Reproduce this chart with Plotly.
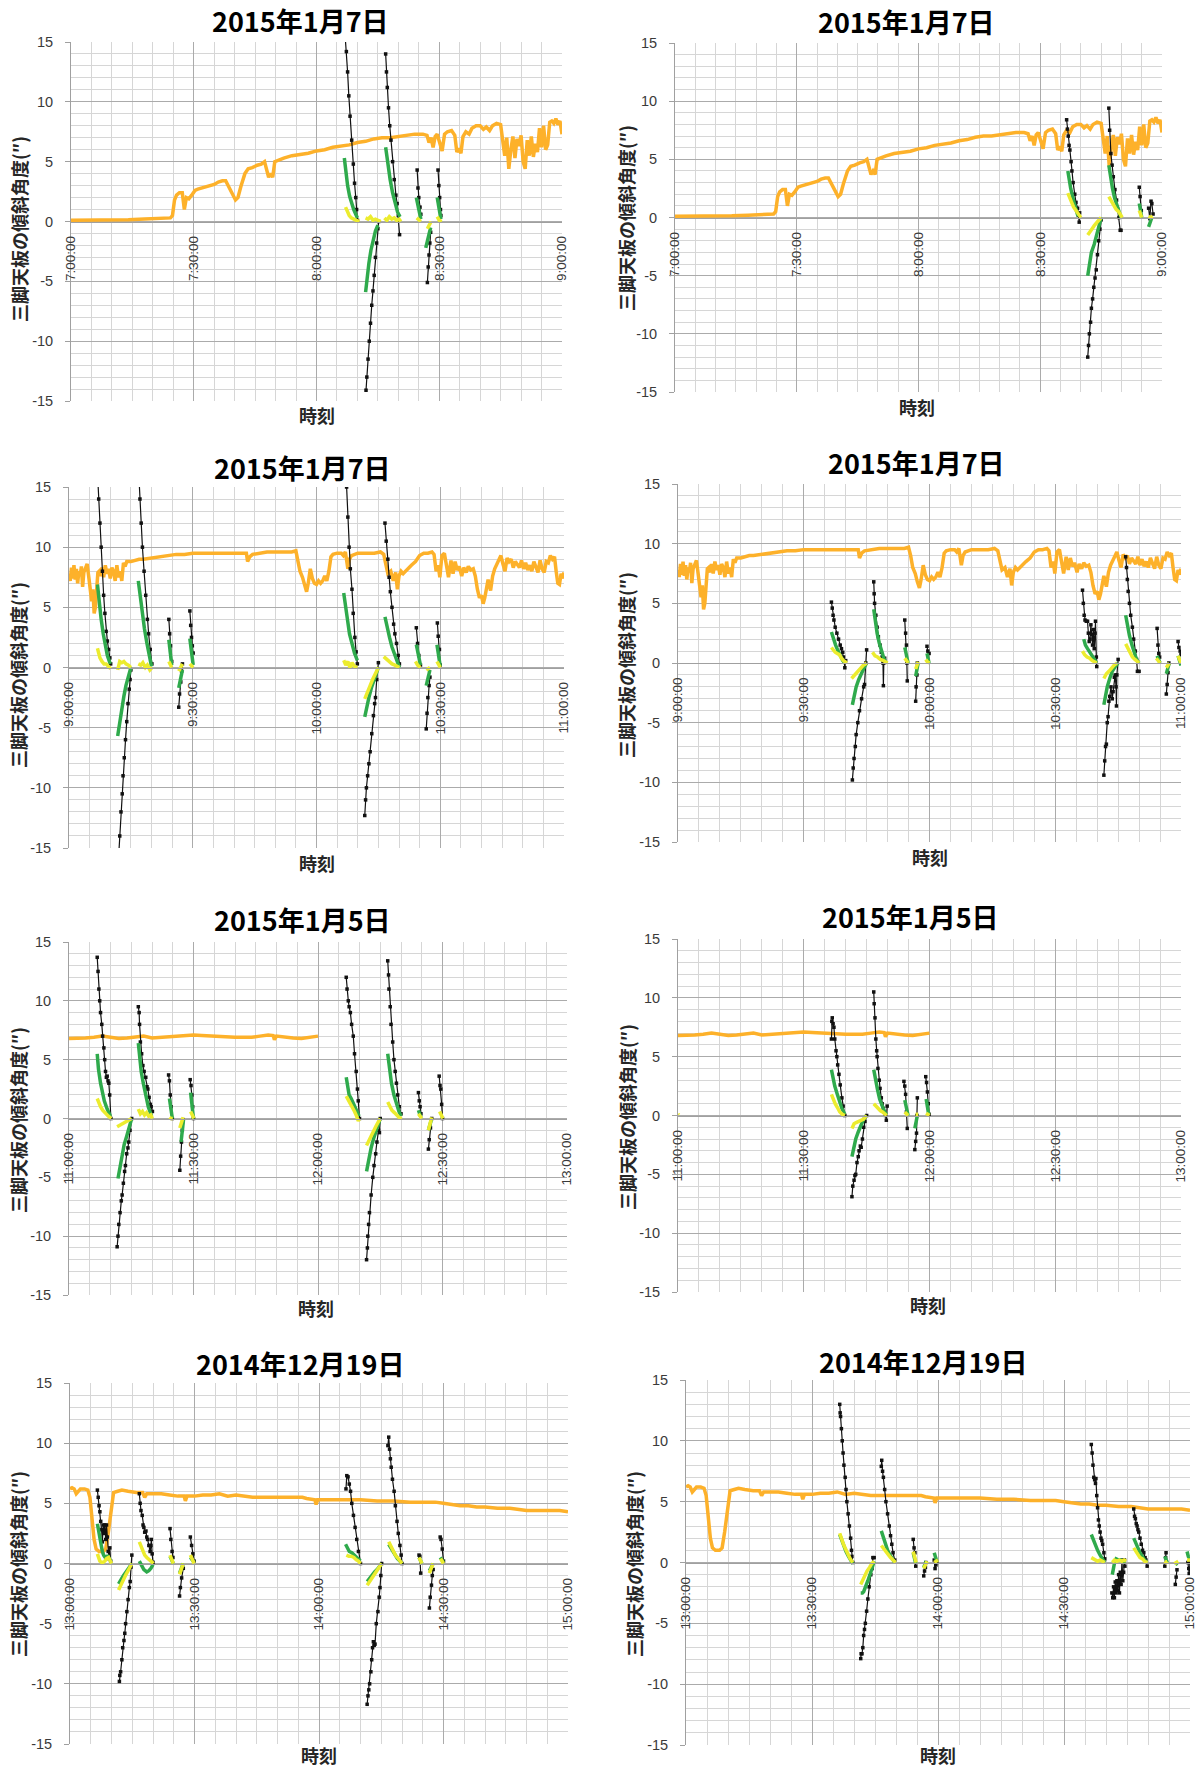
import plotly.graph_objects as go

W, H = 1200, 1769

# ---------------- tick labels ----------------
TICK_MIN = [0, 30, 60, 90, 120]
TICKS_R1 = ["7:00:00", "7:30:00", "8:00:00", "8:30:00", "9:00:00"]
TICKS_R2 = ["9:00:00", "9:30:00", "10:00:00", "10:30:00", "11:00:00"]
TICKS_R3 = ["11:00:00", "11:30:00", "12:00:00", "12:30:00", "13:00:00"]
TICKS_R4 = ["13:00:00", "13:30:00", "14:00:00", "14:30:00", "15:00:00"]
Y_TICKS = [-15, -10, -5, 0, 5, 10, 15]
Y_TICK_TEXT = ["-15", "-10", "-5", "0", "5", "10", "15"]
TITLES = ["2015年1月7日", "2015年1月7日", "2015年1月7日", "2015年1月7日",
          "2015年1月5日", "2015年1月5日", "2014年12月19日", "2014年12月19日"]
Y_TITLE = "三脚天板の傾斜角度(″)"
X_TITLE = "時刻"

# ---------------- orange series (minutes from start, value) ----------------
ORANGE_R1_T = [0, 5, 10, 14, 18, 22, 24.3, 24.8, 25.3, 25.8, 26.5, 27.2, 27.7, 28.2, 28.8, 29.5, 30.3, 31, 32, 33, 34, 35, 36, 37,
               37.8, 38.5, 39.3, 40.2, 40.8, 41.5, 42.5, 43.3, 44.3, 45.5, 46.5, 47.3, 47.8, 48.3, 48.8, 49.3, 49.8, 50.5, 52, 54,
               56, 58, 60, 62, 64, 66, 68, 70, 72, 74, 76, 78, 80, 82, 84, 86, 87, 87.5, 88, 88.5, 89, 89.5, 90, 90.7, 91.3, 92,
               93, 93.8, 94.3, 94.8, 95.3, 95.8, 96.5, 97.3, 98, 99, 100, 100.8, 101.5, 102.3, 103, 104, 105, 105.5, 106, 106.5,
               107, 107.5, 108, 108.5, 109, 109.5, 110, 110.5, 111, 111.5, 112, 112.5, 113, 113.5, 114, 114.5, 115, 115.5, 116,
               116.5, 117, 117.5, 118, 118.5, 119, 119.5, 120]
ORANGE_R1_V = [0.1, 0.1, 0.1, 0.15, 0.2, 0.25, 0.3, 0.5, 1.8, 2.2, 2.4, 2.4, 1.0, 2.0, 1.9, 2.2, 2.6, 2.7, 2.8, 2.9, 3.0, 3.1, 3.3, 3.4,
               3.4, 3.0, 2.4, 1.8, 2.0, 2.9, 4.0, 4.4, 4.5, 4.7, 4.8, 5.0, 4.4, 3.7, 4.0, 3.7, 5.0, 5.1, 5.3, 5.5,
               5.6, 5.7, 5.9, 6.0, 6.2, 6.3, 6.4, 6.6, 6.7, 6.9, 7.0, 7.0, 7.1, 7.2, 7.3, 7.3, 7.2, 6.6, 7.0, 6.2, 7.1, 7.3, 6.6, 5.9, 7.3, 7.5,
               7.6, 7.2, 5.8, 6.1, 5.7, 7.1, 7.5, 7.3, 7.8, 8.0, 8.0, 7.7, 7.9, 7.6, 8.0, 8.2, 8.1, 7.0, 5.5, 7.0,
               4.4, 6.0, 7.1, 5.3, 6.9, 6.3, 7.2, 5.0, 4.4, 6.8, 5.5, 7.1, 5.4, 6.5, 5.8, 7.8, 6.2, 8.0, 6.0,
               6.4, 8.3, 8.4, 8.2, 8.6, 8.1, 8.4, 7.3]

ORANGE_R2_T = [0, 0.3, 0.6, 0.9, 1.2, 1.5, 1.8, 2.1, 2.4, 2.7, 3.0, 3.3, 3.6, 4.0, 4.4, 4.8, 5.2, 5.5, 5.8, 6.1, 6.4, 6.7, 7.0, 7.3,
               7.7, 8.0, 8.4, 8.8, 9.2, 9.6, 10.0, 10.4, 10.8, 11.2, 11.6, 12.0, 12.4, 12.8, 13.2, 13.6, 14.0, 15, 16, 17, 18, 20,
               22, 24, 26, 28, 30, 32, 34, 36, 38, 40, 42, 43, 43.3, 43.8, 44.5, 46, 48, 50, 52, 54, 55, 55.5, 56, 56.6, 57.1,
               57.6, 58, 58.5, 59, 59.5, 60, 60.5, 61, 61.5, 62, 62.5, 63, 63.5, 64, 65, 66, 66.5, 67, 67.6, 68, 68.5, 70, 72, 74,
               75.5, 76.3, 76.8, 77.3, 78, 78.6, 79.2, 79.6, 80, 80.5, 81, 82, 83, 84, 85, 86, 87, 88, 88.5, 89, 89.5, 89.9, 90.4,
               91, 91.5, 92, 92.6, 93.1, 93.6, 94.1, 94.6, 95.2, 95.7, 96.3, 96.8, 97.4, 98, 98.5, 99, 99.5, 100, 100.4, 100.8,
               101.2, 101.6, 102.2, 102.7, 103.2, 103.7, 104.2, 104.7, 105.2, 105.7, 106.2, 106.7, 107.2, 107.7, 108.2, 108.7,
               109.2, 109.7, 110.2, 110.7, 111.2, 111.7, 112.2, 112.7, 113.2, 113.7, 114.2, 114.7, 115.2, 115.7, 116.2, 116.7,
               117.2, 117.7, 118.1, 118.5, 118.9, 119.3, 119.7, 120]
ORANGE_R2_V = [7.8, 7.2, 8.3, 7.4, 8.5, 7.3, 8.2, 7.0, 8.0, 7.6, 8.4, 6.7, 7.9, 8.2, 8.6, 7.5, 6.5, 5.5, 6.5, 4.5, 5.0, 7.2, 7.9, 8.0,
               7.6, 8.3, 7.5, 8.5, 7.8, 8.2, 7.4, 8.3, 8.0, 7.2, 8.5, 7.5, 8.0, 7.2, 8.7, 8.4, 8.8, 8.8, 8.9, 9.0, 9.0, 9.1,
               9.2, 9.3, 9.4, 9.4, 9.5, 9.5, 9.5, 9.5, 9.5, 9.5, 9.5, 9.5, 8.8, 9.2, 9.4, 9.5, 9.6, 9.6, 9.6, 9.6, 9.7, 9.0, 8.0, 7.5, 6.8,
               6.3, 7.0, 8.2, 7.4, 7.0, 6.9, 7.2, 7.0, 7.2, 7.6, 7.2, 8.0, 9.2, 9.4, 9.5, 9.5, 9.3, 9.6, 8.2, 9.0, 9.3, 9.5, 9.5, 9.5,
               9.6, 9.4, 8.6, 7.8, 8.0, 7.2, 7.9, 6.5, 7.6, 8.0, 7.8, 8.2, 8.5, 8.8, 9.3, 9.5, 9.5, 9.6, 9.4, 8.0, 8.5, 7.5, 9.3,
               9.5, 8.5, 7.5, 8.9, 7.8, 8.8, 8.1, 8.4, 7.6, 8.3, 7.9, 8.4, 8.1, 8.2, 7.6, 6.5, 5.8, 6.0, 5.3, 5.8,
               6.8, 7.3, 6.4, 7.6, 8.2, 8.6, 9.0, 9.3, 8.6, 8.0, 9.1, 8.8, 9.0, 8.3, 8.8, 8.6,
               8.3, 8.9, 8.2, 8.7, 8.1, 8.5, 8.0, 8.8, 8.4, 7.9, 8.9, 8.2, 7.9, 8.8, 8.7, 9.3,
               9.0, 9.2, 8.0, 7.0, 6.9, 7.8, 7.4, 7.9]

ORANGE_R3_T = [0, 2, 4, 6, 8, 10, 12, 14, 16, 18, 20, 22, 24, 26, 28, 30, 32, 34, 36, 38, 40, 42, 44, 46, 48, 49.2, 49.5,
               50, 52, 54, 56, 58, 60]
ORANGE_R3_V = [6.8, 6.8, 6.85, 6.9, 7.0, 6.9, 6.8, 6.85, 6.95, 7.0, 6.85, 6.9, 7.0, 7.05, 7.1, 7.1, 7.05, 7.0, 7.0, 6.95, 6.9,
               6.9, 6.9, 7.0, 7.1, 7.05, 6.7, 7.0, 6.9, 6.85, 6.8, 6.9, 7.0]

ORANGE_R4_T = [0, 0.5, 1, 1.5, 2, 2.5, 3.5, 4.3, 4.8, 5.3, 5.8, 6.3, 7, 8, 8.6, 9.2, 9.8, 10.2, 10.5, 11.5, 12.5, 14, 16, 17.5,
               18, 18.5, 20, 22, 24, 26, 27.5, 27.8, 28.2, 30, 32, 34, 36, 38, 40, 42, 44, 46, 48, 50, 52, 54, 56, 57, 59,
               59.3, 59.7, 62, 66, 70, 74, 78, 82, 86, 88, 90, 92, 94, 96, 98, 100, 103, 106, 108, 110, 113, 116, 118, 120]
ORANGE_R4_V = [6.2, 6.3, 6.2, 5.8, 6.0, 6.2, 6.2, 6.1, 5.5, 3.5, 2.0, 1.2, 1.0, 1.0, 1.2, 2.5, 4.0, 5.0, 5.9, 6.0, 6.1, 6.0, 5.9, 5.9,
               5.5, 5.8, 5.8, 5.8, 5.7, 5.6, 5.6, 5.2, 5.6, 5.6, 5.7, 5.7, 5.8, 5.6, 5.7, 5.6, 5.5, 5.5, 5.5, 5.5, 5.5, 5.5, 5.5, 5.4, 5.3,
               4.9, 5.3, 5.3, 5.3, 5.3, 5.2, 5.2, 5.1, 5.1, 5.1, 5.0, 4.9, 4.8, 4.8, 4.7, 4.7, 4.6, 4.6, 4.5, 4.4, 4.4, 4.4, 4.4, 4.3]

# ---------------- black / green / yellow segments: (minute, value) ----------------
P1_BLACK = [
    [(67.0, 15.5), (67.3, 14.2), (67.6, 12.5), (67.9, 10.5), (68.2, 8.8), (68.6, 6.8), (69.0, 4.8), (69.3, 3.2), (69.6, 2.0), (69.8, 1.0), (70.0, 0.1)],
    [(72.1, -14.1), (72.3, -13.0), (72.6, -11.5), (72.9, -10.0), (73.2, -8.5), (73.5, -7.0), (73.8, -5.8), (74.1, -4.5), (74.4, -3.0), (74.7, -1.8), (75.0, -0.6), (75.2, 0.0)],
    [(76.9, 14.0), (77.1, 12.5), (77.3, 11.2), (77.6, 9.5), (77.9, 8.0), (78.2, 6.8), (78.6, 5.0), (79.0, 3.5), (79.4, 2.2), (79.7, 1.5), (80.0, 0.5), (80.3, -1.1)],
    [(84.6, 4.3), (84.8, 2.8), (85.0, 2.0), (85.3, 1.2), (85.5, 0.6)],
    [(87.1, -5.1), (87.3, -3.8), (87.5, -2.8), (87.7, -1.8), (87.9, -0.9)],
    [(89.7, 4.3), (89.9, 3.0), (90.1, 2.0), (90.3, 1.0), (90.4, 0.5)],
]
P1_GREEN = [
    [(66.8, 5.3), (67.2, 4.0), (67.6, 3.0), (68.1, 2.1), (68.6, 1.5), (69.1, 1.0), (69.6, 0.6), (70.0, 0.3)],
    [(72.0, -5.9), (72.4, -4.6), (72.8, -3.5), (73.3, -2.4), (73.8, -1.5), (74.4, -0.8), (75.0, -0.3)],
    [(76.9, 6.2), (77.4, 4.7), (78.0, 3.5), (78.6, 2.4), (79.2, 1.5), (79.8, 0.8), (80.4, 0.4)],
    [(84.4, 2.0), (84.9, 1.0), (85.5, 0.2)],
    [(86.7, -2.2), (87.3, -1.2), (87.9, -0.5)],
    [(89.5, 2.0), (90.0, 1.0), (90.4, 0.2)],
]
P1_YELLOW = [
    [(67.1, 1.2), (67.5, 0.8), (68.0, 0.5), (68.5, 0.3), (69.0, 0.2), (69.7, 0.1), (70.5, 0.0)],
    [(72.0, 0.3), (72.6, 0.2), (73.2, 0.4), (73.8, 0.1), (74.4, 0.2), (75.0, 0.1), (75.7, 0.0)],
    [(76.6, 0.3), (77.2, 0.1), (77.8, 0.4), (78.4, 0.2), (79.0, 0.3), (79.6, 0.1), (80.2, 0.2), (80.6, 0.0)],
    [(84.5, 0.3), (85.0, 0.1), (85.5, 0.0)],
    [(87.1, -0.6), (87.6, -0.3), (88.0, 0.0)],
    [(89.5, 0.4), (90.0, 0.1), (90.6, 0.0)],
]

P2_BLACK = [
    [(96.5, 8.4), (96.7, 7.6), (96.9, 7.0), (97.1, 6.2), (97.3, 5.8), (97.6, 4.8), (97.8, 4.0), (98.1, 3.0), (98.5, 2.0), (98.8, 1.3), (99.2, 0.8), (99.4, 0.2), (99.6, -0.4), (99.7, 0.4)],
    [(101.7, -12.0), (101.9, -11.0), (102.1, -10.0), (102.4, -9.0), (102.6, -7.8), (102.9, -7.0), (103.2, -6.0), (103.5, -5.2), (103.8, -4.5), (104.1, -3.2), (104.4, -2.0), (104.7, -1.0), (105.0, -0.2)],
    [(106.9, 9.4), (107.1, 7.5), (107.4, 5.5), (107.7, 4.5), (108.0, 3.5), (108.4, 2.4), (108.8, 1.5), (109.1, 0.7), (109.4, 0.0), (109.7, -1.1), (109.9, -1.1)],
    [(114.4, 2.6), (114.6, 1.8), (114.9, 0.6)],
    [(116.7, 0.8), (117.0, -0.1), (117.3, 1.4), (117.5, 1.2), (117.8, 0.3)],
]
P2_GREEN = [
    [(96.8, 4.0), (97.5, 2.5), (98.4, 1.2), (99.3, 0.1)],
    [(101.7, -5.0), (102.2, -3.8), (102.6, -3.0), (103.3, -2.3), (104.0, -1.5), (104.5, -0.7), (105.0, 0.0)],
    [(106.9, 4.5), (107.3, 3.4), (107.8, 2.5), (108.3, 1.7), (108.9, 1.0), (109.4, 0.4), (109.9, 0.0)],
    [(114.4, 1.2), (114.7, 0.6), (115.0, 0.0)],
    [(116.7, -0.8), (117.1, -0.3), (117.5, 0.0)],
]
P2_YELLOW = [
    [(96.8, 2.1), (97.2, 1.7), (97.7, 1.3), (98.2, 0.9), (98.8, 0.6), (99.4, 0.3), (100.0, 0.0)],
    [(101.7, -1.5), (102.2, -1.2), (102.7, -1.0), (103.3, -0.7), (104.0, -0.4), (104.5, -0.2), (105.0, 0.0)],
    [(106.9, 1.8), (107.5, 1.4), (108.1, 1.1), (108.7, 0.7), (109.3, 0.5), (109.8, 0.2), (110.2, 0.0)],
    [(114.4, 0.6), (114.7, 0.3), (115.0, 0.0)],
    [(116.7, 0.1), (117.2, 0.0), (117.7, 0.1)],
]

P3_BLACK = [
    [(7.0, 15.5), (7.2, 14.0), (7.5, 12.0), (7.8, 10.0), (8.1, 8.0), (8.4, 6.0), (8.7, 4.5), (9.0, 3.0), (9.3, 2.2), (9.6, 1.5), (9.9, 0.8), (10.1, 0.3)],
    [(12.1, -15.3), (12.3, -14.0), (12.6, -12.0), (12.9, -10.5), (13.1, -9.0), (13.4, -7.5), (13.7, -6.0), (14.0, -4.5), (14.3, -3.0), (14.6, -1.8), (14.8, -1.0), (15.0, -0.2)],
    [(17.0, 15.5), (17.2, 14.0), (17.5, 12.0), (17.8, 10.0), (18.2, 8.0), (18.6, 6.0), (19.0, 4.0), (19.3, 2.8), (19.7, 1.5), (20.1, 0.3)],
    [(24.2, 4.0), (24.4, 2.8), (24.6, 1.8), (24.9, 0.5)],
    [(26.6, -3.3), (26.8, -2.2), (27.1, -1.2), (27.3, -0.3), (27.5, 0.3)],
    [(29.3, 4.7), (29.5, 3.5), (29.7, 2.5), (29.9, 1.8), (30.1, 1.2)],
    [(67.3, 15.0), (67.6, 12.5), (67.9, 10.0), (68.2, 8.2), (68.6, 6.5), (68.9, 4.5), (69.3, 2.5), (69.6, 1.3), (69.9, 0.3)],
    [(71.7, -12.3), (71.9, -11.0), (72.1, -10.0), (72.4, -9.0), (72.7, -8.0), (73.0, -7.0), (73.4, -5.5), (73.8, -4.0), (74.1, -3.0), (74.3, -2.5), (74.6, -1.0), (75.0, 0.4)],
    [(76.6, 12.0), (76.9, 10.5), (77.3, 9.0), (77.6, 7.5), (77.9, 6.3), (78.3, 5.0), (78.7, 3.6), (79.0, 2.8), (79.4, 2.0), (79.8, 1.0), (80.1, 0.3)],
    [(84.2, 3.3), (84.5, 2.0), (84.8, 1.0), (85.2, 0.2)],
    [(86.6, -5.1), (86.8, -3.8), (87.0, -2.5), (87.3, -1.5), (87.5, -0.8)],
    [(89.3, 3.7), (89.5, 2.6), (89.8, 1.5), (90.0, 0.2)],
]
P3_GREEN = [
    [(6.9, 6.9), (7.3, 5.3), (7.8, 4.0), (8.3, 2.8), (8.7, 2.0), (9.3, 1.0), (10.0, 0.3)],
    [(11.8, -5.7), (12.3, -4.5), (12.8, -3.5), (13.3, -2.4), (13.8, -1.5), (14.4, -0.7), (15.0, 0.0)],
    [(16.8, 7.2), (17.3, 5.8), (17.8, 4.5), (18.3, 3.2), (18.9, 2.0), (19.4, 1.0), (20.0, 0.1)],
    [(24.2, 2.3), (24.5, 1.2), (24.9, 0.2)],
    [(26.6, -1.7), (27.0, -1.0), (27.5, -0.2)],
    [(29.3, 2.4), (29.7, 1.2), (30.1, 0.2)],
    [(66.6, 6.2), (67.0, 5.0), (67.5, 4.0), (68.0, 2.8), (68.5, 2.0), (69.2, 1.2), (69.9, 0.6)],
    [(71.7, -4.1), (72.2, -3.2), (72.7, -2.5), (73.3, -1.7), (74.0, -1.0), (74.5, -0.4), (75.0, 0.0)],
    [(76.6, 4.2), (77.1, 3.3), (77.7, 2.5), (78.3, 1.7), (79.0, 1.0), (79.6, 0.4), (80.1, 0.0)],
    [(84.2, 1.9), (84.7, 0.9), (85.2, 0.2)],
    [(86.6, -1.5), (87.0, -0.8), (87.5, -0.2)],
    [(89.2, 1.9), (89.6, 0.9), (90.0, 0.1)],
]
P3_YELLOW = [
    [(6.9, 1.6), (7.5, 0.8), (8.0, 0.5), (8.5, 0.3), (9.0, 0.3), (9.5, 0.1), (10.1, -0.1)],
    [(11.8, -0.2), (12.3, 0.5), (12.8, 0.4), (13.3, 0.5), (13.8, 0.3), (14.4, 0.2), (15.0, 0.0)],
    [(16.8, 0.3), (17.4, 0.2), (17.9, 0.4), (18.5, 0.0), (19.0, 0.2), (19.6, -0.2), (20.1, 0.0)],
    [(24.2, 0.5), (24.5, 0.2), (24.9, 0.0)],
    [(26.6, -0.3), (27.0, 0.0), (27.5, 0.3)],
    [(29.3, 0.3), (29.7, 0.1), (30.1, 0.0)],
    [(66.6, 0.6), (67.1, 0.2), (67.6, 0.5), (68.1, 0.0), (68.6, 0.4), (69.2, 0.1), (69.9, 0.0)],
    [(71.7, -2.6), (72.3, -2.0), (73.0, -1.5), (73.6, -1.0), (74.0, -0.7), (74.5, -0.3), (75.0, 0.0)],
    [(76.3, 0.9), (76.9, 0.7), (77.6, 0.5), (78.3, 0.3), (79.0, 0.2), (79.6, 0.1), (80.1, 0.0)],
    [(84.0, 0.5), (84.5, 0.2), (85.2, 0.0)],
    [(86.6, -0.2), (87.0, -0.1), (87.5, 0.0)],
    [(89.2, 0.5), (89.6, 0.2), (90.0, 0.0)],
]

P4_BLACK = [
    [(36.6, 5.1), (36.8, 4.6), (37.0, 4.0), (37.2, 3.6), (37.5, 3.0), (37.9, 2.5), (38.3, 2.0), (38.7, 1.5), (39.0, 1.2), (39.3, 0.9), (39.5, 0.5), (39.8, -0.4), (40.0, 0.2)],
    [(41.6, -9.8), (41.8, -8.8), (42.0, -8.0), (42.3, -7.0), (42.5, -6.0), (42.9, -5.0), (43.3, -4.0), (43.8, -3.0), (44.3, -2.0), (44.5, -1.8), (44.8, 0.0), (45.0, 1.1)],
    [(46.7, 6.8), (46.8, 5.8), (46.9, 5.0), (47.2, 4.0), (47.5, 3.0), (47.8, 2.2), (48.2, 1.5), (48.5, 0.9), (48.7, 0.5), (48.9, 0.0), (49.0, -1.9), (49.1, 0.0), (49.3, 0.4)],
    [(54.1, 3.6), (54.3, 2.5), (54.5, 1.5), (54.6, 0.0), (54.7, -1.5)],
    [(56.7, -3.2), (56.8, -2.0), (57.0, -1.0), (57.1, 0.0)],
    [(59.4, 1.4), (59.6, 1.0), (59.9, 0.8)],
    [(96.5, 6.1), (96.7, 5.0), (96.9, 4.0), (97.1, 3.6), (97.4, 3.5), (97.7, 3.5), (97.9, 2.5), (98.1, 1.8), (98.3, 2.0), (98.5, 3.2), (98.7, 2.4), (98.9, 1.5), (99.1, 2.8), (99.3, 1.2), (99.5, 2.5), (99.6, 3.5), (99.8, 0.5), (99.9, -0.3)],
    [(101.6, -9.4), (101.8, -8.2), (102.0, -7.0), (102.2, -6.8), (102.4, -5.0), (102.6, -4.5), (102.8, -3.2), (103.0, -2.8), (103.3, -2.0), (103.6, -3.0), (103.8, -2.4), (104.1, -1.2), (104.3, -1.0), (104.5, -2.0), (104.6, -3.6), (104.7, -1.0), (105.0, 0.3)],
    [(106.8, 8.9), (107.0, 8.0), (107.2, 7.0), (107.4, 6.0), (107.7, 5.0), (108.0, 4.0), (108.4, 3.0), (108.7, 2.0), (109.1, 1.0), (109.4, 0.3), (109.6, -0.7), (110.0, -0.7)],
    [(114.3, 2.9), (114.5, 1.5), (114.7, 0.8), (114.9, 0.5)],
    [(116.5, -2.6), (116.7, -1.8), (116.9, -0.8), (117.1, 0.0)],
    [(119.3, 1.8), (119.5, 1.3), (119.8, 1.0), (120.0, 0.7)],
]
P4_GREEN = [
    [(36.6, 2.6), (37.1, 2.0), (37.6, 1.5), (38.2, 1.0), (38.8, 0.5), (39.3, 0.2), (39.8, 0.0)],
    [(41.6, -3.5), (42.0, -2.7), (42.5, -2.0), (43.1, -1.4), (43.8, -0.8), (44.4, -0.4), (45.0, 0.0)],
    [(46.7, 4.5), (47.1, 3.4), (47.5, 2.5), (48.0, 1.7), (48.5, 1.0), (49.1, 0.4), (49.7, 0.0)],
    [(54.1, 1.3), (54.5, 0.6), (54.9, 0.0)],
    [(56.7, -1.1), (57.0, -0.5), (57.3, 0.0)],
    [(59.4, 0.8), (59.6, 0.4), (59.9, 0.0)],
    [(96.8, 2.0), (97.2, 1.5), (97.7, 1.2), (98.2, 0.9), (98.8, 0.6), (99.3, 0.3), (99.9, 0.0)],
    [(101.6, -3.5), (102.0, -2.6), (102.4, -2.0), (103.0, -1.3), (103.6, -0.7), (104.3, -0.3), (105.0, 0.0)],
    [(106.8, 4.0), (107.2, 3.1), (107.7, 2.3), (108.3, 1.5), (108.9, 0.8), (109.4, 0.3), (110.0, 0.0)],
    [(114.3, 0.6), (114.6, 0.3), (115.0, 0.0)],
    [(116.5, -0.9), (116.8, -0.4), (117.2, 0.0)],
    [(119.3, 0.6), (119.6, 0.2), (120.0, -0.2)],
]
P4_YELLOW = [
    [(36.6, 1.3), (37.0, 1.1), (37.5, 0.9), (38.0, 0.8), (38.5, 0.7), (39.0, 0.4), (39.5, 0.2), (40.3, 0.0)],
    [(41.4, -1.3), (41.9, -1.1), (42.4, -0.9), (43.0, -0.7), (43.5, -0.5), (44.2, -0.2), (45.0, 0.0)],
    [(46.4, 0.9), (47.0, 0.6), (47.6, 0.5), (48.3, 0.3), (49.0, 0.2), (49.5, 0.1), (50.0, 0.0)],
    [(54.1, 0.4), (54.5, 0.2), (54.9, 0.0)],
    [(56.7, -0.5), (57.0, -0.2), (57.3, 0.1)],
    [(59.1, 0.3), (59.5, 0.1), (60.0, 0.0)],
    [(96.5, 1.0), (97.0, 0.7), (97.6, 0.5), (98.2, 0.4), (98.8, 0.2), (99.4, 0.1), (99.9, 0.0)],
    [(101.6, -1.3), (102.2, -0.9), (102.8, -0.7), (103.4, -0.4), (104.0, -0.2), (104.7, 0.0)],
    [(106.8, 1.6), (107.3, 1.2), (107.8, 0.8), (108.4, 0.5), (109.0, 0.3), (109.5, 0.1), (110.0, 0.0)],
    [(114.1, 0.4), (114.5, 0.2), (115.0, 0.0)],
    [(116.5, -0.4), (116.8, -0.2), (117.2, 0.0)],
    [(119.3, 0.6), (119.6, 0.3), (120.0, 0.0)],
]

P5_BLACK = [
    [(6.8, 13.7), (7.0, 12.5), (7.2, 11.0), (7.4, 10.0), (7.6, 9.0), (7.9, 8.0), (8.1, 7.0), (8.4, 6.0), (8.6, 5.0), (8.8, 4.0), (9.0, 3.5), (9.2, 3.6), (9.4, 3.2), (9.6, 3.0), (9.8, 2.0), (10.1, 0.0)],
    [(11.6, -10.9), (11.8, -10.0), (12.0, -9.0), (12.3, -8.0), (12.6, -7.0), (12.8, -6.5), (13.1, -5.5), (13.4, -4.5), (13.6, -4.0), (13.9, -3.0), (14.2, -2.5), (14.4, -2.0), (14.7, -1.0), (15.1, 0.0)],
    [(16.7, 9.5), (16.9, 9.0), (17.0, 8.0), (17.2, 6.5), (17.5, 5.5), (17.8, 4.5), (18.1, 4.0), (18.5, 3.5), (18.8, 2.7), (19.0, 2.5), (19.3, 1.8), (19.6, 1.2), (19.8, 1.0), (20.1, 0.6)],
    [(24.0, 3.7), (24.2, 3.2), (24.4, 2.0), (24.6, 1.0), (24.9, 0.0)],
    [(26.7, -4.4), (26.9, -3.2), (27.1, -2.0), (27.3, -1.0), (27.5, -0.1)],
    [(29.2, 3.3), (29.4, 2.8), (29.6, 2.0), (29.8, 1.0), (30.0, 0.0)],
    [(66.8, 12.0), (67.0, 11.0), (67.3, 10.0), (67.5, 9.5), (67.8, 9.0), (68.1, 8.0), (68.5, 7.0), (68.8, 5.5), (69.2, 4.0), (69.5, 2.5), (69.7, 1.5), (70.0, 0.0)],
    [(71.7, -12.0), (71.9, -11.0), (72.0, -10.0), (72.2, -9.0), (72.4, -8.0), (72.8, -6.5), (73.2, -5.0), (73.5, -4.0), (73.9, -3.0), (74.2, -2.0), (74.6, -1.0), (74.8, -1.2), (75.0, 0.0)],
    [(76.8, 13.4), (77.0, 12.2), (77.1, 11.0), (77.4, 9.5), (77.6, 8.0), (78.0, 6.5), (78.3, 5.0), (78.6, 4.0), (78.9, 3.0), (79.2, 2.0), (79.6, 1.0), (80.0, 0.4)],
    [(84.2, 2.2), (84.4, 1.5), (84.6, 1.0), (84.8, 0.4)],
    [(86.6, -2.6), (86.8, -1.8), (87.1, -0.8), (87.4, 0.0)],
    [(89.2, 3.6), (89.4, 2.8), (89.6, 2.5), (89.8, 1.2), (90.0, 0.0)],
]
P5_GREEN = [
    [(6.8, 5.5), (7.1, 4.2), (7.6, 3.0), (8.0, 2.2), (8.5, 1.5), (9.2, 0.8), (10.0, 0.2)],
    [(11.8, -5.1), (12.3, -4.0), (12.8, -3.0), (13.3, -2.2), (13.9, -1.5), (14.5, -0.7), (15.1, 0.0)],
    [(16.7, 6.4), (17.0, 5.2), (17.4, 4.0), (17.9, 3.0), (18.4, 2.0), (19.1, 1.0), (19.9, 0.2)],
    [(24.2, 1.7), (24.5, 0.8), (24.9, 0.0)],
    [(27.0, -2.0), (27.3, -1.0), (27.6, -0.1)],
    [(29.3, 2.2), (29.6, 1.1), (30.0, 0.0)],
    [(66.8, 3.5), (67.1, 2.6), (67.5, 2.0), (68.0, 1.7), (68.6, 1.2), (69.3, 0.6), (69.9, 0.2)],
    [(71.7, -4.5), (72.2, -3.4), (72.8, -2.5), (73.4, -1.7), (74.0, -1.0), (74.5, -0.4), (75.0, 0.0)],
    [(76.8, 5.5), (77.2, 4.2), (77.7, 3.0), (78.3, 2.0), (78.9, 1.2), (79.5, 0.6), (80.0, 0.2)],
    [(84.2, 0.7), (84.5, 0.3), (84.8, 0.1)],
    [(86.6, -1.0), (86.9, -0.5), (87.4, 0.0)],
]
P5_YELLOW = [
    [(6.8, 1.7), (7.2, 1.3), (7.6, 1.0), (8.1, 0.7), (8.6, 0.5), (9.0, 0.3), (9.5, 0.2), (10.2, 0.0)],
    [(11.6, -0.7), (12.1, -0.6), (12.7, -0.5), (13.3, -0.3), (14.0, -0.2), (14.5, -0.1), (15.1, 0.0)],
    [(16.7, 0.8), (17.2, 0.4), (17.7, 0.6), (18.2, 0.3), (18.7, 0.5), (19.2, 0.2), (19.7, 0.3), (20.1, 0.0)],
    [(24.2, 0.1), (24.6, 0.0), (25.0, 0.0)],
    [(26.7, -0.8), (27.1, -0.4), (27.5, 0.1)],
    [(29.3, 0.6), (29.7, 0.3), (30.1, 0.0)],
    [(66.8, 1.9), (67.3, 1.6), (67.8, 1.3), (68.3, 0.9), (68.8, 0.6), (69.3, 0.2), (69.7, -0.2), (70.0, 0.0)],
    [(71.7, -2.3), (72.2, -1.9), (72.7, -1.5), (73.3, -1.1), (73.9, -0.7), (74.5, -0.3), (75.0, 0.0)],
    [(76.8, 1.4), (77.3, 1.0), (77.8, 0.7), (78.4, 0.5), (78.9, 0.3), (79.5, 0.1), (80.2, 0.0)],
    [(84.2, 0.4), (84.6, 0.2), (85.0, 0.0)],
    [(86.6, -1.0), (87.0, -0.5), (87.4, 0.1)],
    [(89.3, 0.6), (89.7, 0.3), (90.1, 0.0)],
]

P6_BLACK = [
    [(36.6, 6.5), (36.7, 8.0), (36.8, 8.3), (37.0, 7.8), (37.2, 7.5), (37.4, 6.5), (37.7, 5.5), (37.9, 5.0), (38.1, 4.3), (38.4, 3.5), (38.7, 2.6), (39.1, 1.5), (39.4, 0.8), (39.8, 0.0)],
    [(41.5, -6.9), (41.7, -6.0), (42.0, -5.5), (42.2, -5.1), (42.4, -5.0), (42.7, -4.0), (43.0, -3.5), (43.2, -3.0), (43.5, -2.6), (43.7, -2.7), (44.0, -2.0), (44.3, -1.0), (44.6, -0.5), (45.0, 0.0)],
    [(46.7, 10.5), (46.8, 9.5), (47.0, 8.3), (47.2, 6.5), (47.4, 5.5), (47.5, 5.0), (47.7, 4.0), (48.0, 3.0), (48.2, 2.3), (48.5, 1.5), (48.7, 1.0), (49.0, 0.6), (49.2, 0.3), (49.5, 0.0), (49.7, -0.4), (49.9, 0.8)],
    [(53.9, 2.9), (54.1, 2.5), (54.3, 1.8), (54.5, 0.3), (54.7, -1.1)],
    [(56.5, -2.9), (56.7, -2.2), (56.9, -1.5), (57.0, 0.0), (57.1, 1.5)],
    [(59.1, 3.3), (59.3, 2.8), (59.5, 2.0), (59.7, 1.0), (59.9, 0.1)],
]
P6_GREEN = [
    [(36.6, 3.9), (37.0, 3.1), (37.4, 2.5), (38.0, 1.8), (38.5, 1.2), (39.1, 0.6), (39.8, 0.1)],
    [(41.5, -3.5), (41.9, -2.7), (42.4, -2.0), (43.0, -1.4), (43.6, -0.8), (44.3, -0.3), (45.0, 0.0)],
    [(46.7, 3.9), (47.1, 3.0), (47.6, 2.2), (48.1, 1.4), (48.7, 0.8), (49.3, 0.3), (49.8, 0.1)],
    [(54.1, 1.3), (54.5, 0.6), (54.9, 0.0)],
    [(56.5, -1.1), (56.8, -0.5), (57.1, 0.0)],
    [(59.2, 1.4), (59.5, 0.7), (59.8, 0.1)],
]
P6_YELLOW = [
    [(0.0, 0.15), (0.15, 0.05)],
    [(36.6, 1.8), (37.0, 1.4), (37.5, 1.0), (38.0, 0.7), (38.6, 0.3), (39.2, 0.1), (39.8, 0.0)],
    [(41.5, -1.1), (42.0, -0.7), (42.5, -0.6), (43.1, -0.5), (43.7, -0.4), (44.3, -0.3), (45.0, 0.0)],
    [(46.7, 1.0), (47.2, 0.8), (47.7, 0.6), (48.3, 0.4), (48.8, 0.3), (49.3, 0.1), (49.8, 0.0)],
    [(54.1, 0.3), (54.5, 0.1), (54.9, 0.0)],
    [(56.7, 0.1), (57.0, 0.1), (57.3, 0.1)],
    [(59.2, 0.2), (59.6, 0.1), (60.0, 0.0)],
]

P7_BLACK = [
    [(6.6, 6.1), (6.8, 5.5), (7.0, 4.8), (7.2, 4.3), (7.4, 3.5), (7.6, 2.8), (7.8, 1.8), (8.0, 3.2), (8.2, 2.5), (8.4, 3.2), (8.6, 2.0), (8.8, 3.2), (9.0, 2.2), (9.2, 1.0), (9.4, 0.4), (9.6, 1.3), (9.8, 0.2)],
    [(11.9, -9.8), (12.0, -9.3), (12.2, -9.0), (12.5, -8.0), (12.7, -7.0), (13.0, -6.4), (13.2, -5.8), (13.4, -5.0), (13.7, -4.0), (14.0, -3.0), (14.3, -2.0), (14.5, -1.5), (14.7, -0.3), (14.9, 0.7)],
    [(16.7, 5.8), (16.9, 5.0), (17.1, 4.4), (17.4, 4.0), (17.6, 3.2), (17.8, 3.0), (18.0, 2.6), (18.3, 2.7), (18.5, 2.2), (18.7, 2.0), (19.0, 1.5), (19.3, 1.0), (19.5, 1.5), (19.6, 2.0), (19.8, 0.8), (20.0, 0.1)],
    [(24.1, 2.9), (24.3, 2.0), (24.6, 1.0), (24.8, 0.5)],
    [(26.4, -2.7), (26.6, -2.0), (26.9, -1.2), (27.3, -0.4)],
    [(29.0, 2.2), (29.3, 1.5), (29.6, 0.8), (29.9, 0.2)],
    [(66.5, 6.2), (66.7, 7.3), (67.0, 7.2), (67.3, 6.6), (67.6, 6.0), (67.9, 5.0), (68.3, 4.0), (68.7, 3.0), (69.1, 2.0), (69.5, 1.0), (70.0, 0.0)],
    [(71.6, -11.7), (71.8, -11.0), (72.0, -10.5), (72.2, -10.0), (72.5, -9.0), (72.7, -8.0), (72.9, -7.0), (73.1, -6.5), (73.3, -6.8), (73.5, -6.7), (73.8, -5.0), (74.2, -4.0), (74.5, -2.8), (74.7, -2.0), (74.9, -1.0), (75.1, 0.0)],
    [(76.6, 9.8), (76.8, 10.5), (77.0, 9.5), (77.2, 8.7), (77.4, 8.0), (77.7, 7.0), (78.1, 6.0), (78.4, 4.8), (78.8, 3.5), (79.1, 2.5), (79.5, 1.5), (79.8, 0.7), (80.0, 0.0)],
    [(84.1, 0.7), (84.3, 0.6), (84.5, -0.8)],
    [(86.6, -3.7), (86.8, -2.8), (87.1, -1.8), (87.3, -1.0), (87.5, -0.5)],
    [(89.2, 2.2), (89.4, 2.0), (89.7, 1.2), (90.0, 0.2)],
]
P7_GREEN = [
    [(6.6, 3.3), (6.9, 2.6), (7.2, 2.0), (7.5, 1.3), (7.8, 1.0), (8.1, 0.7), (8.5, 0.5), (8.9, 0.6), (9.2, 0.6), (9.5, 0.4), (9.8, 0.2)],
    [(11.7, -1.7), (12.3, -1.3), (12.9, -1.0), (13.5, -0.7), (14.0, -0.5), (14.5, -0.2), (14.9, 0.0)],
    [(16.7, 0.2), (17.2, -0.1), (17.8, -0.5), (18.5, -0.7), (19.0, -0.6), (19.5, -0.4), (20.0, -0.1)],
    [(24.1, 0.6), (24.5, 0.3), (24.9, 0.0)],
    [(26.4, -0.8), (26.9, -0.4), (27.3, 0.0)],
    [(29.0, 0.5), (29.4, 0.3), (29.9, 0.1)],
    [(66.4, 1.6), (66.8, 1.3), (67.3, 1.0), (67.9, 0.9), (68.5, 0.7), (69.2, 0.5), (70.0, 0.2)],
    [(71.6, -1.5), (72.2, -1.2), (72.8, -1.0), (73.4, -0.7), (74.0, -0.5), (74.6, -0.2), (75.1, 0.0)],
    [(76.8, 1.6), (77.3, 1.3), (77.8, 1.0), (78.4, 0.7), (78.9, 0.4), (79.5, 0.2), (80.0, 0.0)],
    [(84.1, 0.5), (84.5, 0.2), (84.8, 0.0)],
    [(86.6, -0.6), (87.0, -0.3), (87.5, 0.0)],
    [(89.2, 0.5), (89.6, 0.3), (90.0, 0.1)],
]
P7_YELLOW = [
    [(6.6, 0.8), (6.9, 0.5), (7.2, 0.2), (7.6, 0.1), (8.0, 0.1), (8.4, 0.2), (8.8, 0.4), (9.3, 0.5), (9.6, 0.2), (10.0, 0.0)],
    [(11.7, -2.2), (12.1, -1.9), (12.5, -1.5), (13.0, -1.2), (13.5, -0.9), (14.0, -0.6), (14.5, -0.3), (14.9, 0.0)],
    [(16.7, 1.8), (17.1, 1.4), (17.5, 1.0), (18.0, 0.7), (18.5, 0.5), (19.0, 0.3), (19.5, 0.2), (20.1, 0.0)],
    [(24.1, 0.7), (24.5, 0.3), (24.9, 0.0)],
    [(26.4, -0.9), (26.9, -0.4), (27.3, 0.0)],
    [(29.0, 0.7), (29.4, 0.3), (29.9, 0.0)],
    [(66.6, 0.7), (67.2, 0.6), (67.8, 0.6), (68.4, 0.5), (69.0, 0.3), (69.5, 0.2), (70.0, 0.0)],
    [(71.6, -1.8), (72.2, -1.5), (72.8, -1.2), (73.4, -0.8), (74.0, -0.5), (74.6, -0.2), (75.1, 0.0)],
    [(76.8, 1.8), (77.3, 1.4), (77.8, 1.1), (78.4, 0.7), (78.9, 0.5), (79.5, 0.2), (80.0, 0.0)],
    [(84.1, 0.5), (84.5, 0.2), (84.8, 0.0)],
    [(86.6, -0.8), (87.0, -0.4), (87.5, 0.0)],
    [(89.3, 0.4), (89.6, 0.2), (90.0, 0.0)],
]

P8_BLACK = [
    [(36.6, 13.0), (36.7, 12.3), (36.8, 12.0), (37.0, 11.0), (37.2, 10.0), (37.4, 9.0), (37.6, 8.0), (37.9, 7.0), (38.1, 6.0), (38.3, 5.0), (38.6, 4.0), (38.9, 3.0), (39.2, 2.0), (39.4, 1.0), (39.5, 0.5), (39.7, 0.0)],
    [(41.6, -7.9), (41.7, -7.5), (41.9, -7.5), (42.1, -7.0), (42.3, -6.0), (42.5, -5.5), (42.7, -5.0), (43.0, -4.0), (43.3, -3.0), (43.6, -2.0), (44.0, -1.0), (44.3, -0.5), (44.5, 0.4), (44.8, 0.4)],
    [(46.5, 7.9), (46.6, 8.4), (46.8, 7.5), (47.0, 7.0), (47.3, 6.0), (47.6, 5.0), (48.0, 4.0), (48.4, 3.0), (48.7, 2.2), (49.0, 1.5), (49.3, 0.8), (49.7, 0.2)],
    [(54.1, 1.9), (54.3, 1.2), (54.5, 0.8), (54.7, -0.3)],
    [(56.6, -1.1), (56.8, -0.7), (57.0, -0.4), (57.1, 0.0)],
    [(59.1, 0.2), (59.3, -0.5), (59.5, -0.2), (59.7, 0.0)],
    [(96.5, 9.7), (96.7, 9.0), (96.9, 8.0), (97.1, 7.0), (97.3, 6.8), (97.5, 6.5), (97.6, 6.9), (97.8, 5.5), (98.0, 4.5), (98.2, 3.5), (98.4, 3.0), (98.6, 2.5), (98.8, 2.0), (99.0, 1.8), (99.2, 1.5), (99.5, 0.8), (99.7, 0.3)],
    [(101.4, -2.5), (101.6, -2.9), (101.8, -2.0), (102.0, -2.9), (102.2, -1.6), (102.4, -2.5), (102.6, -1.5), (102.8, -2.3), (103.0, -1.0), (103.2, -2.5), (103.4, -0.8), (103.6, -1.8), (103.8, 0.2), (104.0, -1.5), (104.2, -0.8), (104.4, 0.2), (104.5, -0.3)],
    [(106.6, 4.4), (106.8, 3.8), (107.0, 3.6), (107.2, 3.2), (107.4, 3.0), (107.6, 2.7), (107.8, 2.5), (108.1, 2.0), (108.4, 1.5), (108.7, 1.0), (109.0, 0.8), (109.3, 0.4), (109.5, 0.2), (109.8, -0.3)],
    [(114.0, -0.3), (114.2, 0.4), (114.3, 0.8)],
    [(116.5, -1.8), (116.7, -1.2), (116.9, -0.6)],
    [(119.5, 0.0), (119.7, -0.5), (119.8, -0.9), (120.0, 0.0)],
]
P8_GREEN = [
    [(36.6, 2.3), (37.1, 1.8), (37.6, 1.3), (38.1, 0.9), (38.7, 0.5), (39.2, 0.2), (39.7, -0.1)],
    [(41.6, -2.5), (42.0, -2.5), (42.3, -2.4), (42.8, -2.0), (43.3, -1.5), (43.8, -1.0), (44.2, -0.5), (44.8, 0.1)],
    [(46.5, 2.6), (47.0, 2.0), (47.5, 1.5), (48.0, 1.0), (48.6, 0.6), (49.2, 0.3), (49.7, 0.0)],
    [(54.1, 0.8), (54.4, 0.3), (54.7, -0.1)],
    [(56.6, -0.4), (56.9, -0.1), (57.2, 0.1)],
    [(59.1, 0.8), (59.4, 0.4), (59.7, 0.1)],
    [(96.5, 2.3), (97.0, 1.8), (97.5, 1.4), (98.0, 1.0), (98.6, 0.6), (99.2, 0.3), (99.7, 0.0)],
    [(101.5, -1.0), (101.8, -0.3), (102.1, 0.1), (102.4, 0.3), (103.0, 0.2), (103.5, 0.2), (104.1, 0.1), (104.7, 0.1)],
    [(106.6, 2.0), (107.1, 1.5), (107.6, 1.2), (108.1, 0.8), (108.7, 0.4), (109.2, 0.2), (109.8, 0.0)],
    [(114.0, 0.5), (114.3, 0.2), (114.6, 0.0)],
    [(116.5, -0.2), (116.8, -0.1), (117.0, 0.0)],
    [(119.3, 0.9), (119.6, 0.5), (120.0, 0.3)],
]
P8_YELLOW = [
    [(36.6, 2.4), (37.0, 1.9), (37.5, 1.5), (38.0, 1.1), (38.5, 0.7), (39.1, 0.3), (39.7, 0.0)],
    [(41.6, -1.8), (42.1, -1.4), (42.6, -1.0), (43.1, -0.7), (43.7, -0.4), (44.2, -0.1), (44.8, 0.1)],
    [(46.5, 1.4), (47.1, 1.1), (47.6, 0.9), (48.2, 0.6), (48.7, 0.4), (49.3, 0.2), (49.9, 0.0)],
    [(54.1, 0.9), (54.4, 0.4), (54.8, 0.0)],
    [(56.6, -0.5), (57.0, -0.2), (57.4, 0.1)],
    [(59.1, 0.0), (59.5, 0.1), (60.0, 0.2)],
    [(96.5, 0.4), (97.0, 0.3), (97.5, 0.2), (98.0, 0.1), (98.6, 0.2), (99.2, 0.1), (99.7, 0.0)],
    [(101.5, 0.0), (102.0, 0.2), (102.6, 0.1), (103.2, 0.2), (103.8, 0.1), (104.3, 0.2), (104.8, 0.1)],
    [(106.6, 1.2), (107.1, 0.9), (107.6, 0.7), (108.1, 0.4), (108.7, 0.3), (109.2, 0.1), (109.9, 0.0)],
    [(114.0, 0.1), (114.3, 0.0), (114.6, 0.1)],
    [(116.3, -0.1), (116.7, 0.0), (117.2, 0.1)],
    [(119.3, 0.2), (119.6, 0.2), (120.0, 0.2)],
]

# ---------------- styling ----------------
C_ORANGE = "#FDB12A"
C_BLACK = "#111111"
C_GREEN = "#2FAA4C"
C_YELLOW = "#ECEC2E"
C_MAJOR = "#ABABAB"
C_MINOR = "#D6D6D6"
C_AXIS = "#A0A0A0"
C_TEXT = "#3A3A3A"
TICK_FONT = "Liberation Sans"
CJK_FONT = "Noto Sans CJK JP"

# plot-area boxes in page pixels: left, right, top, bottom
BOXES = [
    (71, 562, 42, 401), (675, 1162, 43, 392),
    (69, 564, 487, 848), (678, 1181, 484, 842),
    (69, 567, 942, 1295), (678, 1181, 939, 1292),
    (70, 568, 1383, 1744), (686, 1190, 1380, 1745),
]
TITLE_POS = [(300, 20), (906, 21), (302, 468), (916, 462), (302, 919), (910, 916), (300, 1363), (923, 1361)]
XTITLE_POS = [(317, 415), (917, 407), (317, 863), (930, 857), (316, 1308), (928, 1305), (319, 1755), (938, 1755)]
YTITLE_POS = [(19, 229), (626, 218), (18, 675), (626, 665), (18, 1120), (627, 1117), (18, 1564), (634, 1564)]

ORANGES = [(ORANGE_R1_T, ORANGE_R1_V)] * 2 + [(ORANGE_R2_T, ORANGE_R2_V)] * 2 + \
          [(ORANGE_R3_T, ORANGE_R3_V)] * 2 + [(ORANGE_R4_T, ORANGE_R4_V)] * 2
TICKTEXTS = [TICKS_R1] * 2 + [TICKS_R2] * 2 + [TICKS_R3] * 2 + [TICKS_R4] * 2
SEGS = [(P1_BLACK, P1_GREEN, P1_YELLOW), (P2_BLACK, P2_GREEN, P2_YELLOW),
        (P3_BLACK, P3_GREEN, P3_YELLOW), (P4_BLACK, P4_GREEN, P4_YELLOW),
        (P5_BLACK, P5_GREEN, P5_YELLOW), (P6_BLACK, P6_GREEN, P6_YELLOW),
        (P7_BLACK, P7_GREEN, P7_YELLOW), (P8_BLACK, P8_GREEN, P8_YELLOW)]


def px(x):
    return x / W


def py(y):
    return 1 - y / H


def flat(segs):
    xs, ys = [], []
    for s in segs:
        for t, v in s:
            xs.append(t)
            ys.append(v)
        xs.append(None)
        ys.append(None)
    return xs, ys


fig = go.Figure()
annotations = []
layout = {}

for i in range(8):
    n = i + 1
    xa = "x" if n == 1 else f"x{n}"
    ya = "y" if n == 1 else f"y{n}"
    xkey = "xaxis" if n == 1 else f"xaxis{n}"
    ykey = "yaxis" if n == 1 else f"yaxis{n}"
    left, right, top, bottom = BOXES[i]

    ot, ov = ORANGES[i]
    fig.add_trace(go.Scatter(x=ot, y=ov, mode="lines", line=dict(color=C_ORANGE, width=3.5),
                             xaxis=xa, yaxis=ya, showlegend=False, hoverinfo="skip"))
    blk, grn, yel = SEGS[i]
    bx, by = flat(blk)
    fig.add_trace(go.Scatter(x=bx, y=by, mode="lines+markers", line=dict(color=C_BLACK, width=1.2),
                             marker=dict(color=C_BLACK, size=3.5, symbol="square"),
                             xaxis=xa, yaxis=ya, showlegend=False, hoverinfo="skip"))
    gx, gy = flat(grn)
    fig.add_trace(go.Scatter(x=gx, y=gy, mode="lines", line=dict(color=C_GREEN, width=3.5),
                             xaxis=xa, yaxis=ya, showlegend=False, hoverinfo="skip"))
    yx, yy = flat(yel)
    fig.add_trace(go.Scatter(x=yx, y=yy, mode="lines", line=dict(color=C_YELLOW, width=3.5),
                             xaxis=xa, yaxis=ya, showlegend=False, hoverinfo="skip"))

    zero_px = (top + bottom) / 2.0
    layout[xkey] = dict(
        domain=[px(left), px(right)], range=[0, 120], anchor="free", position=py(zero_px),
        tickmode="array", tickvals=TICK_MIN, ticktext=TICKTEXTS[i], tickangle=-90,
        tickfont=dict(family=TICK_FONT, size=13.5, color=C_TEXT), ticklabelstandoff=8,
        showgrid=True, gridcolor=C_MAJOR, gridwidth=1,
        minor=dict(tickmode="linear", tick0=0, dtick=5, showgrid=True, gridcolor=C_MINOR, gridwidth=1),
        showline=True, linecolor=C_AXIS, linewidth=1, ticks="", zeroline=False, fixedrange=True,
        automargin=False,
    )
    layout[ykey] = dict(
        domain=[py(bottom), py(top)], range=[-15, 15], anchor=xa,
        tickmode="array", tickvals=Y_TICKS, ticktext=Y_TICK_TEXT,
        tickfont=dict(family=TICK_FONT, size=14.5, color=C_TEXT), ticklabelstandoff=9,
        showgrid=True, gridcolor=C_MAJOR, gridwidth=1,
        minor=dict(tickmode="linear", tick0=0, dtick=1, showgrid=True, gridcolor=C_MINOR, gridwidth=1),
        showline=True, linecolor=C_AXIS, linewidth=1, ticks="outside", ticklen=5, tickcolor=C_AXIS,
        zeroline=False, fixedrange=True, automargin=False,
    )

    tx, ty = TITLE_POS[i]
    annotations.append(dict(text=f"<b>{TITLES[i]}</b>", x=px(tx), y=py(ty), xref="paper", yref="paper",
                            xanchor="center", yanchor="middle", showarrow=False,
                            font=dict(family=CJK_FONT, size=27, color="#000000")))
    hx, hy = XTITLE_POS[i]
    annotations.append(dict(text=f"<b>{X_TITLE}</b>", x=px(hx), y=py(hy), xref="paper", yref="paper",
                            xanchor="center", yanchor="middle", showarrow=False,
                            font=dict(family=CJK_FONT, size=18, color="#262626")))
    vx, vy = YTITLE_POS[i]
    annotations.append(dict(text=f"<b>{Y_TITLE}</b>", x=px(vx), y=py(vy), xref="paper", yref="paper",
                            xanchor="center", yanchor="middle", showarrow=False, textangle=-90,
                            font=dict(family=CJK_FONT, size=18, color="#262626")))

fig.update_layout(
    width=W, height=H, margin=dict(l=0, r=0, t=0, b=0, pad=0, autoexpand=False),
    paper_bgcolor="white", plot_bgcolor="white",
    annotations=annotations, showlegend=False, **layout,
)

# remove the browser's default page margin so the figure fills the window exactly
fig.write_html("out.html",
               config={"displayModeBar": False},
               post_script="document.body.style.margin='0px';document.body.style.overflow='hidden';")
